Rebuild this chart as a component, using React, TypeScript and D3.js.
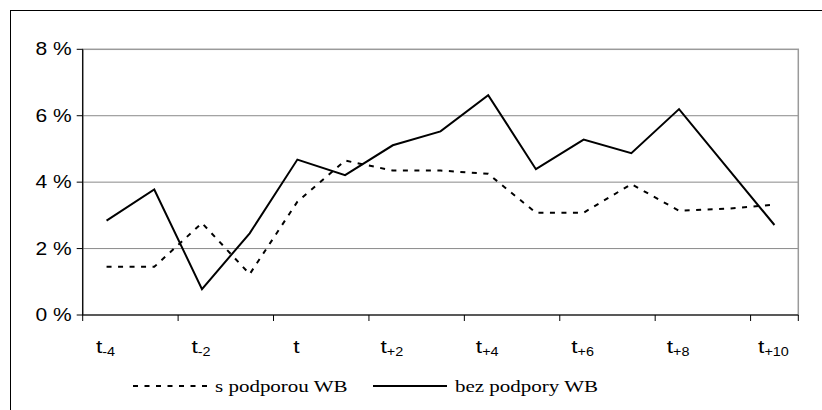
import React from "react";
import * as d3 from "d3";

const categories = ["-4", "-3", "-2", "-1", "", "+1", "+2", "+3", "+4", "+5", "+6", "+7", "+8", "+9", "+10"];
const labeledCategories = ["-4", "-2", "", "+2", "+4", "+6", "+8", "+10"];
const sPodporou = [1.45, 1.45, 2.77, 1.23, 3.41, 4.65, 4.35, 4.35, 4.25, 3.08, 3.08, 3.94, 3.14, 3.2, 3.32];
const bezPodpory = [2.84, 3.78, 0.78, 2.46, 4.68, 4.21, 5.11, 5.53, 6.62, 4.39, 5.28, 4.87, 6.2, 4.45, 2.71];
const yTicks = [0, 2, 4, 6, 8];
const legendLabels = ["s podporou WB", "bez podpory WB"];

const W = 822;
const H = 410;
const left = 82.7;
const right = 798.3;
const top = 49.3;
const bottom = 315;
const SX = 1.2;
const SANS = "'Liberation Sans', Arial, sans-serif";
const SERIF = "'Liberation Serif', 'Times New Roman', serif";

export default function App() {
  const x = d3.scaleBand<string>().domain(categories).range([left, right]).padding(0);
  const y = d3.scaleLinear().domain([0, 8]).range([bottom, top]);
  const cx = (c: string) => (x(c) as number) + x.bandwidth() / 2;
  const line = d3
    .line<number>()
    .x((_, i) => cx(categories[i]))
    .y((v) => y(v));

  const tickXs = categories
    .map((c, i) => ({ c, i }))
    .filter((d) => d.i % 2 === 0)
    .map((d) => x(d.c) as number)
    .concat([right]);

  return (
    <svg
      width={W}
      height={H}
      style={{ position: "absolute", left: 0, top: 0, background: "#fff" }}
    >
      <rect x={10.5} y={10.5} width={900} height={600} fill="#fff" stroke="#000" strokeWidth={1} />
      {yTicks.slice(1, 4).map((t) => (
        <line key={t} x1={left} x2={right} y1={y(t)} y2={y(t)} stroke="#8a8a8a" strokeWidth={1} />
      ))}
      <rect x={left} y={top} width={right - left} height={bottom - top} fill="none" stroke="#9a9a9a" strokeWidth={1.5} />
      <line x1={left} x2={left} y1={top} y2={bottom} stroke="#000" strokeWidth={1.2} />
      <line x1={left} x2={right} y1={bottom} y2={bottom} stroke="#000" strokeWidth={1.2} />
      {yTicks.map((t) => (
        <g key={t}>
          <line x1={left - 6} x2={left} y1={y(t)} y2={y(t)} stroke="#000" strokeWidth={1} />
          <text
            transform={`translate(${left - 11},${y(t) + 6}) scale(${SX},1)`}
            textAnchor="end"
            fontFamily={SANS}
            fontSize={17.5}
            fill="#000"
          >
            {`${t} %`}
          </text>
        </g>
      ))}
      {tickXs.map((tx, i) => (
        <line key={i} x1={tx} x2={tx} y1={bottom} y2={bottom + 6} stroke="#000" strokeWidth={1} />
      ))}
      {labeledCategories.map((c) => (
        <text
          key={c}
          transform={`translate(${cx(c) - 1},${353}) scale(${SX},1)`}
          textAnchor="middle"
          fontFamily={SANS}
          fontSize={19}
          fill="#000"
        >
          t
          {c !== "" && (
            <tspan fontSize={12} dy={3}>
              {c}
            </tspan>
          )}
        </text>
      ))}
      <path d={line(sPodporou) || ""} fill="none" stroke="#000" strokeWidth={2} strokeDasharray="5 6.5" />
      <path d={line(bezPodpory) || ""} fill="none" stroke="#000" strokeWidth={2} strokeLinejoin="miter" />
      <line x1={133} x2={210} y1={386} y2={386} stroke="#000" strokeWidth={2} strokeDasharray="5 6.5" />
      <text
        transform={`translate(215,392) scale(${SX},1)`}
        fontFamily={SERIF}
        fontSize={17.5}
        fill="#000"
      >
        {legendLabels[0]}
      </text>
      <line x1={373} x2={447} y1={386} y2={386} stroke="#000" strokeWidth={2} />
      <text
        transform={`translate(455,392) scale(${SX},1)`}
        fontFamily={SERIF}
        fontSize={17.5}
        fill="#000"
      >
        {legendLabels[1]}
      </text>
    </svg>
  );
}
